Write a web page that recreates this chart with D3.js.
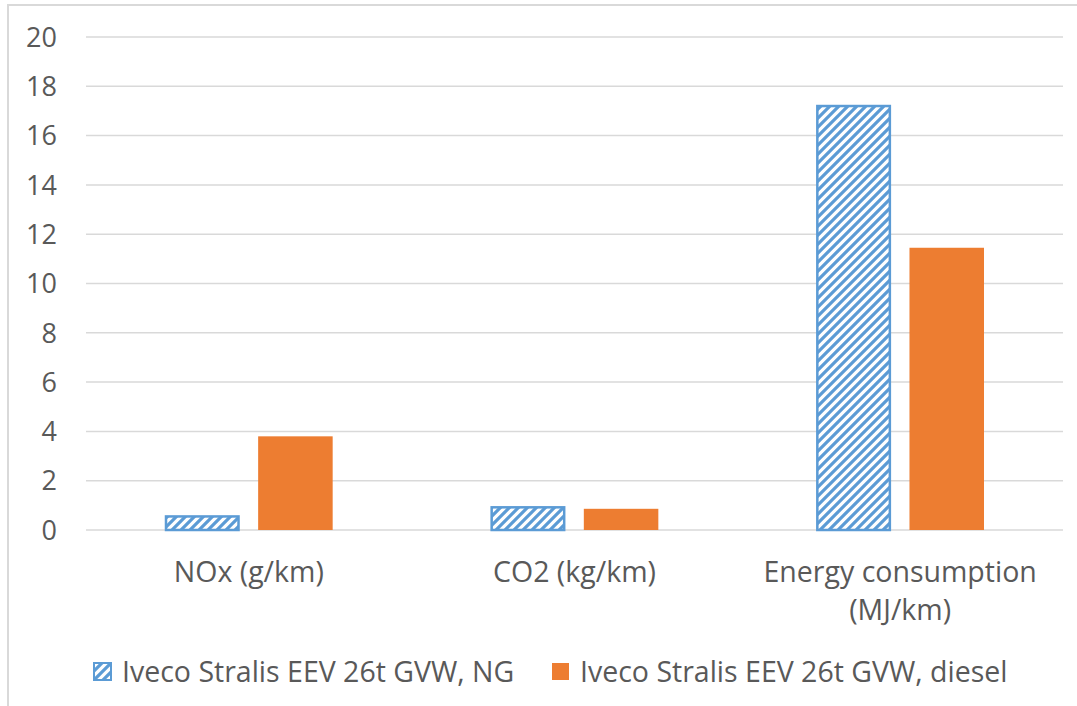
<!DOCTYPE html>
<html>
<head>
<meta charset="utf-8">
<script src="https://cdn.jsdelivr.net/npm/d3@7"></script>
<style>
  html, body { margin: 0; padding: 0; background: #fff; }
  svg { display: block; }
  text { font-family: "Open Sans", "DejaVu Sans", sans-serif; fill: #595959; }
</style>
</head>
<body>
<svg id="chart" width="1077" height="706"></svg>
<script>
const categories = [["NOx (g/km)"], ["CO2 (kg/km)"], ["Energy consumption", "(MJ/km)"]];
const seriesNames = ["Iveco Stralis EEV 26t GVW, NG", "Iveco Stralis EEV 26t GVW, diesel"];
const ngValues = [0.55, 0.92, 17.2];
const dieselValues = [3.8, 0.86, 11.45];
const yTicks = [0, 2, 4, 6, 8, 10, 12, 14, 16, 18, 20];

const svg = d3.select("#chart");
const catKeys = categories.map(c => c.join(" "));

// border
svg.append("rect").attr("x", 8).attr("y", 5).attr("width", 1090).attr("height", 720)
  .attr("fill", "none").attr("stroke", "#d9d9d9").attr("stroke-width", 2);

// hatch pattern
const defs = svg.append("defs");
const pat = defs.append("pattern").attr("id", "hatch").attr("patternUnits", "userSpaceOnUse")
  .attr("width", 9).attr("height", 9);
pat.append("rect").attr("width", 9).attr("height", 9).attr("fill", "#fff");
pat.append("path").attr("d", "M0,9 L9,0 M-3,3 L3,-3 M6,12 L12,6")
  .attr("stroke", "#5B9BD5").attr("stroke-width", 3.2);

const y = d3.scaleLinear().domain([0, 20]).range([530, 37]);
const x = d3.scaleBand().domain(catKeys).range([86, 1063]).paddingInner(0).paddingOuter(0);
const inner = d3.scaleBand().domain(seriesNames).range([79, x.bandwidth() - 79]).paddingInner(0.2);

// gridlines
svg.append("g").selectAll("line").data(yTicks).join("line")
  .attr("x1", 86).attr("x2", 1063)
  .attr("y1", d => y(d)).attr("y2", d => y(d))
  .attr("stroke", "#d9d9d9").attr("stroke-width", 1.5);

// y tick labels
svg.append("g").selectAll("text").data(yTicks).join("text")
  .attr("x", 57).attr("y", d => y(d)).attr("dy", "0.36em")
  .attr("text-anchor", "end").attr("font-size", 27).text(d => d);

// bars
const rows = catKeys.map((k, i) => ({ key: k, vals: [ngValues[i], dieselValues[i]] }));
const g = svg.append("g");
rows.forEach(r => {
  g.append("rect")
    .attr("x", x(r.key) + inner(seriesNames[0]) + 1)
    .attr("y", y(r.vals[0]))
    .attr("width", inner.bandwidth() - 2)
    .attr("height", y(0) - y(r.vals[0]))
    .attr("fill", "url(#hatch)").attr("stroke", "#5B9BD5").attr("stroke-width", 2.5);
  g.append("rect")
    .attr("x", x(r.key) + inner(seriesNames[1]))
    .attr("y", y(r.vals[1]))
    .attr("width", inner.bandwidth())
    .attr("height", y(0) - y(r.vals[1]))
    .attr("fill", "#ED7D31");
});

// category labels
categories.forEach((c, i) => {
  const cx = x(catKeys[i]) + x.bandwidth() / 2;
  c.forEach((line, j) => {
    svg.append("text").attr("text-anchor", "middle").attr("font-size", 28.5)
      .attr("x", cx).attr("y", 582 + j * 38).text(line);
  });
});

// legend
const legendItems = [
  { name: seriesNames[0], sx: 94, fill: "url(#hatch)", stroke: "#5B9BD5" },
  { name: seriesNames[1], sx: 552, fill: "#ED7D31", stroke: "none" }
];
legendItems.forEach(it => {
  svg.append("rect").attr("x", it.sx).attr("y", 663).attr("width", 17).attr("height", 17)
    .attr("fill", it.fill).attr("stroke", it.stroke).attr("stroke-width", 2);
  svg.append("text").attr("x", it.sx + 28).attr("y", 682).attr("font-size", 28.5).text(it.name);
});
</script>
</body>
</html>
